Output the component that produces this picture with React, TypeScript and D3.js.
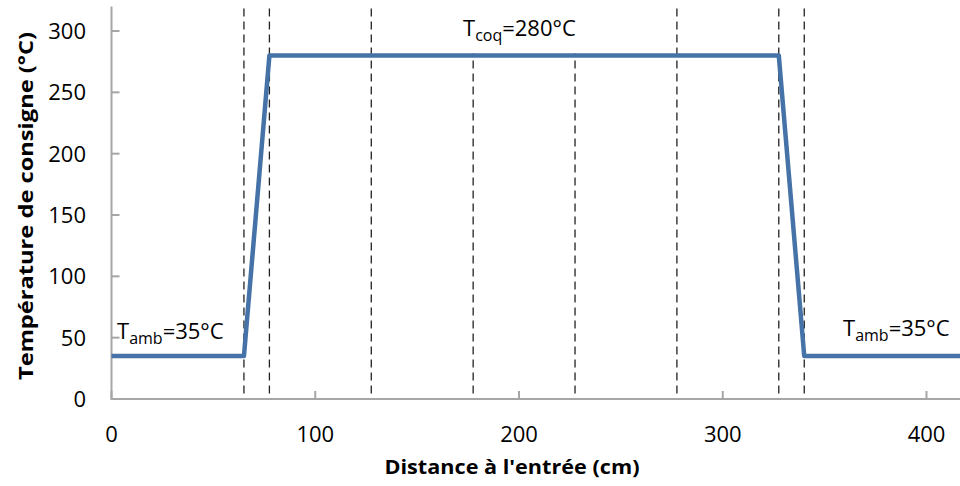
import React from "react";
import * as d3 from "d3";

const distance = [0, 65, 77.5, 327.5, 340, 420];
const temperature = [35, 35, 280, 280, 35, 35];
const dashedX = [65, 77.5, 127.5, 177.5, 227.5, 277.5, 327.5, 340];
const xTicks = [0, 100, 200, 300, 400];
const yTicks = [0, 50, 100, 150, 200, 250, 300];

const W = 960;
const H = 486;
const FONT = "'Open Sans', 'Noto Sans', sans-serif";

export default function App() {
  const x = d3.scaleLinear().domain([0, 400]).range([111.5, 926.5]);
  const y = d3.scaleLinear().domain([0, 300]).range([399, 31]);
  const yTop = y(320);
  const line = d3
    .line<number>()
    .x((_, i) => x(distance[i]))
    .y((d) => y(d));
  const axisColor = "#a6a6a6";
  return (
    <svg
      width={W}
      height={H}
      style={{ position: "absolute", left: 0, top: 0, background: "#fff" }}
      fontFamily={FONT}
    >
      <defs>
        <clipPath id="clip">
          <rect x={0} y={0} width={W} height={H} />
        </clipPath>
      </defs>
      {dashedX.map((d) => (
        <line
          key={d}
          x1={x(d)}
          x2={x(d)}
          y1={yTop + 2}
          y2={y(0)}
          stroke="#222"
          strokeWidth={1.3}
          strokeDasharray="8,5"
        />
      ))}
      {/* label box for T_coq (white background hides dashes) */}
      <rect x={455} y={8} width={135} height={y(280) - 10} fill="#fff" />
      {/* axes */}
      <line x1={x(0)} x2={W} y1={y(0)} y2={y(0)} stroke={axisColor} strokeWidth={2} />
      <line x1={x(0)} x2={x(0)} y1={yTop} y2={y(0) + 1} stroke={axisColor} strokeWidth={2} />
      {yTicks.map((t) => (
        <g key={"y" + t}>
          <line x1={x(0)} x2={x(0) + 8} y1={y(t)} y2={y(t)} stroke={axisColor} strokeWidth={2} />
          <text x={86} y={y(t)} dy="0.36em" textAnchor="end" fontSize={22} fill="#000">
            {t}
          </text>
        </g>
      ))}
      {xTicks.map((t) => (
        <g key={"x" + t}>
          <line x1={x(t)} x2={x(t)} y1={y(0)} y2={y(0) - 8} stroke={axisColor} strokeWidth={2} />
          <text x={x(t)} y={442} textAnchor="middle" fontSize={22} fill="#000">
            {t}
          </text>
        </g>
      ))}
      <path
        d={line(temperature) || ""}
        fill="none"
        stroke="#4572a7"
        strokeWidth={4.5}
        strokeLinejoin="round"
        clipPath="url(#clip)"
      />
      {/* annotations */}
      <text x={117} y={339} fontSize={22} fill="#000">
        T<tspan fontSize={16} dy={5}>amb</tspan>
        <tspan dy={-5}>=35°C</tspan>
      </text>
      <text x={843} y={336} fontSize={22} fill="#000">
        T<tspan fontSize={16} dy={5}>amb</tspan>
        <tspan dy={-5}>=35°C</tspan>
      </text>
      <text x={463} y={36} fontSize={22} fill="#000">
        T<tspan fontSize={16} dy={5}>coq</tspan>
        <tspan dy={-5}>=280°C</tspan>
      </text>
      {/* titles */}
      <text
        x={512}
        y={474}
        textAnchor="middle"
        fontSize={20}
        fontWeight="bold"
        fill="#000"
        textLength={255}
        lengthAdjust="spacingAndGlyphs"
      >
        Distance à l'entrée (cm)
      </text>
      <text
        transform={`translate(33,206) rotate(-90)`}
        textAnchor="middle"
        fontSize={20}
        fontWeight="bold"
        fill="#000"
        textLength={348}
        lengthAdjust="spacingAndGlyphs"
      >
        Température de consigne (°C)
      </text>
    </svg>
  );
}
